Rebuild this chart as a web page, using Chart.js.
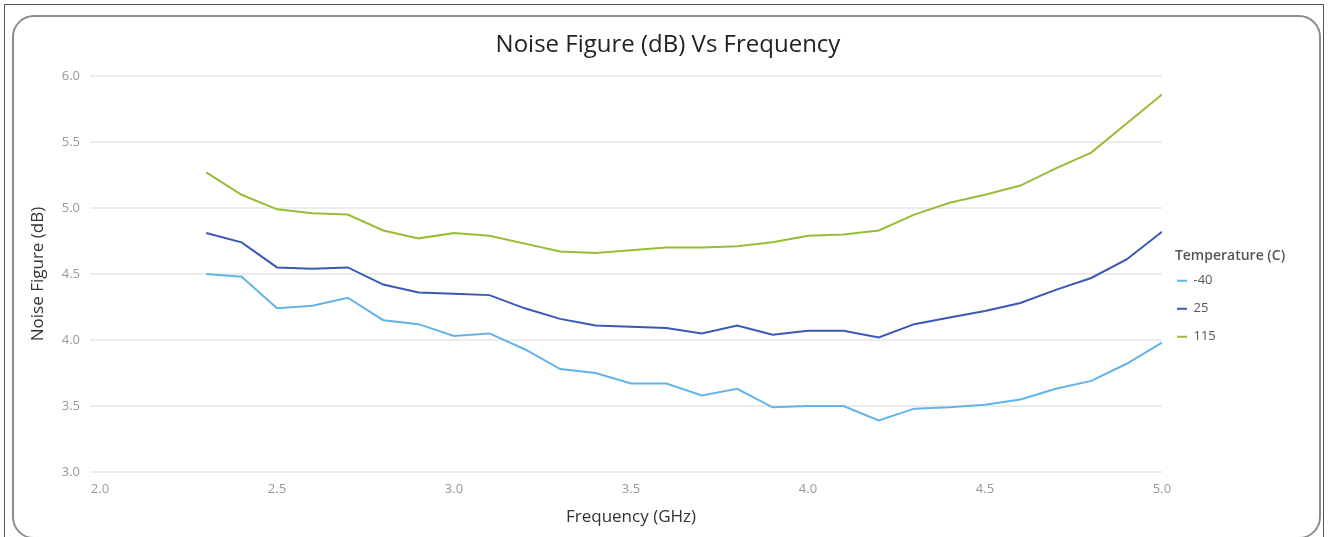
<!DOCTYPE html>
<html>
<head>
<meta charset="utf-8">
<script src="https://cdn.jsdelivr.net/npm/chart.js@4.4.0/dist/chart.umd.min.js"></script>
<style>
  html, body { margin: 0; padding: 0; background: #fff; overflow: hidden; }
  .frame { position: absolute; left: 4px; top: 4px; width: 1320px; height: 560px; border: 1px solid #555; box-sizing: border-box; }
  .card { position: absolute; left: 12px; top: 15px; width: 1309px; height: 524px; border: 2px solid #8c8c8c; border-radius: 22px; box-sizing: border-box; }
  #wrap { position: absolute; left: 0; top: 0; width: 1328px; height: 537px; }
</style>
</head>
<body>
<div class="frame"></div>
<div class="card"></div>
<div id="wrap"><canvas id="c" width="1328" height="537"></canvas></div>
<script>
// ── Datos ────────────────────────────────────────────────────
const freqs = [2.3, 2.4, 2.5, 2.6, 2.7, 2.8, 2.9, 3.0, 3.1, 3.2, 3.3, 3.4, 3.5, 3.6,
               3.7, 3.8, 3.9, 4.0, 4.1, 4.2, 4.3, 4.4, 4.5, 4.6, 4.7, 4.8, 4.9, 5.0];
const nfMinus40 = [4.50, 4.48, 4.24, 4.26, 4.32, 4.15, 4.12, 4.03, 4.05, 3.93, 3.78, 3.75, 3.67, 3.67,
                   3.58, 3.63, 3.49, 3.50, 3.50, 3.39, 3.48, 3.49, 3.51, 3.55, 3.63, 3.69, 3.82, 3.98];
const nf25 = [4.81, 4.74, 4.55, 4.54, 4.55, 4.42, 4.36, 4.35, 4.34, 4.24, 4.16, 4.11, 4.10, 4.09,
              4.05, 4.11, 4.04, 4.07, 4.07, 4.02, 4.12, 4.17, 4.22, 4.28, 4.38, 4.47, 4.61, 4.82];
const nf115 = [5.27, 5.10, 4.99, 4.96, 4.95, 4.83, 4.77, 4.81, 4.79, 4.73, 4.67, 4.66, 4.68, 4.70,
               4.70, 4.71, 4.74, 4.79, 4.80, 4.83, 4.95, 5.04, 5.10, 5.17, 5.30, 5.42, 5.64, 5.86];
const seriesNames = ['-40', '25', '115'];
const seriesColors = ['#62b4e8', '#3a58b5', '#9abb35'];

const FONT = "'Open Sans', 'Noto Sans', sans-serif";
const pts = arr => freqs.map((f, i) => ({ x: f, y: arr[i] }));

// área de trazado buscada (px de página)
const TARGET = { left: 100, right: 1162, top: 76, bottom: 472 };
const W = 1328, H = 537;
const LEFT_PAD = 38, RIGHT_PAD = 30;

// ensancha la leyenda para que quepa el título y el área termine en TARGET.right
const legendWidth = {
  id: 'legendWidth',
  afterInit(chart) {
    const lg = chart.legend;
    if (!lg) return;
    const fit = lg.fit.bind(lg);
    lg.fit = function () { fit(); this.width = W - RIGHT_PAD - TARGET.right; };
  }
};

const chart = new Chart(document.getElementById('c'), {
  type: 'line',
  data: {
    datasets: [nfMinus40, nf25, nf115].map((arr, i) => ({
      label: seriesNames[i],
      data: pts(arr),
      borderColor: seriesColors[i],
      backgroundColor: seriesColors[i],
      borderWidth: 2,
      pointRadius: 0,
      tension: 0
    }))
  },
  plugins: [legendWidth],
  options: {
    responsive: false,
    animation: false,
    layout: { padding: { left: LEFT_PAD, right: RIGHT_PAD, top: 20, bottom: 0 } },
    plugins: {
      title: {
        display: true, text: 'Noise Figure (dB) Vs Frequency',
        color: '#222', font: { family: FONT, size: 24, weight: 'normal' },
        padding: { top: 6, bottom: 16 }
      },
      legend: {
        position: 'right',
        align: 'start',
        title: { display: true, text: 'Temperature (C)', color: '#555', position: 'center',
                 font: { family: FONT, size: 14, weight: '600', lineHeight: 1 },
                 padding: { top: 224, bottom: -4 } },
        labels: {
          usePointStyle: true, pointStyle: 'line', pointStyleWidth: 10,
          color: '#555', font: { family: FONT, size: 13 }, padding: 15
        }
      },
      tooltip: { enabled: false }
    },
    scales: {
      x: {
        type: 'linear', min: 2, max: 5,
        afterFit: s => { s.height = H - TARGET.bottom; },
        ticks: { stepSize: 0.5, color: '#999', font: { family: FONT, size: 13 },
                 callback: v => Number(v).toFixed(1), maxRotation: 0, padding: 1 },
        grid: { display: false }, border: { display: false },
        title: { display: true, text: 'Frequency (GHz)', color: '#333',
                 font: { family: FONT, size: 17 }, padding: { top: 2, bottom: 10 } }
      },
      y: {
        min: 3, max: 6,
        afterFit: s => { s.width = TARGET.left - LEFT_PAD; },
        ticks: { stepSize: 0.5, color: '#999', font: { family: FONT, size: 13 },
                 callback: v => Number(v).toFixed(1), padding: 10 },
        grid: { color: '#ececec', lineWidth: 2, tickLength: 10 }, border: { display: false },
        title: { display: true, text: 'Noise Figure (dB)', color: '#333',
                 font: { family: FONT, size: 17 }, padding: { top: -10, bottom: 0 } }
      }
    }
  }
});

// ajustar el margen superior para que el área empiece en TARGET.top
for (let k = 0; k < 3; k++) {
  const p = chart.options.layout.padding;
  p.top += TARGET.top - chart.chartArea.top;
  chart.update('none');
}
</script>
</body>
</html>
